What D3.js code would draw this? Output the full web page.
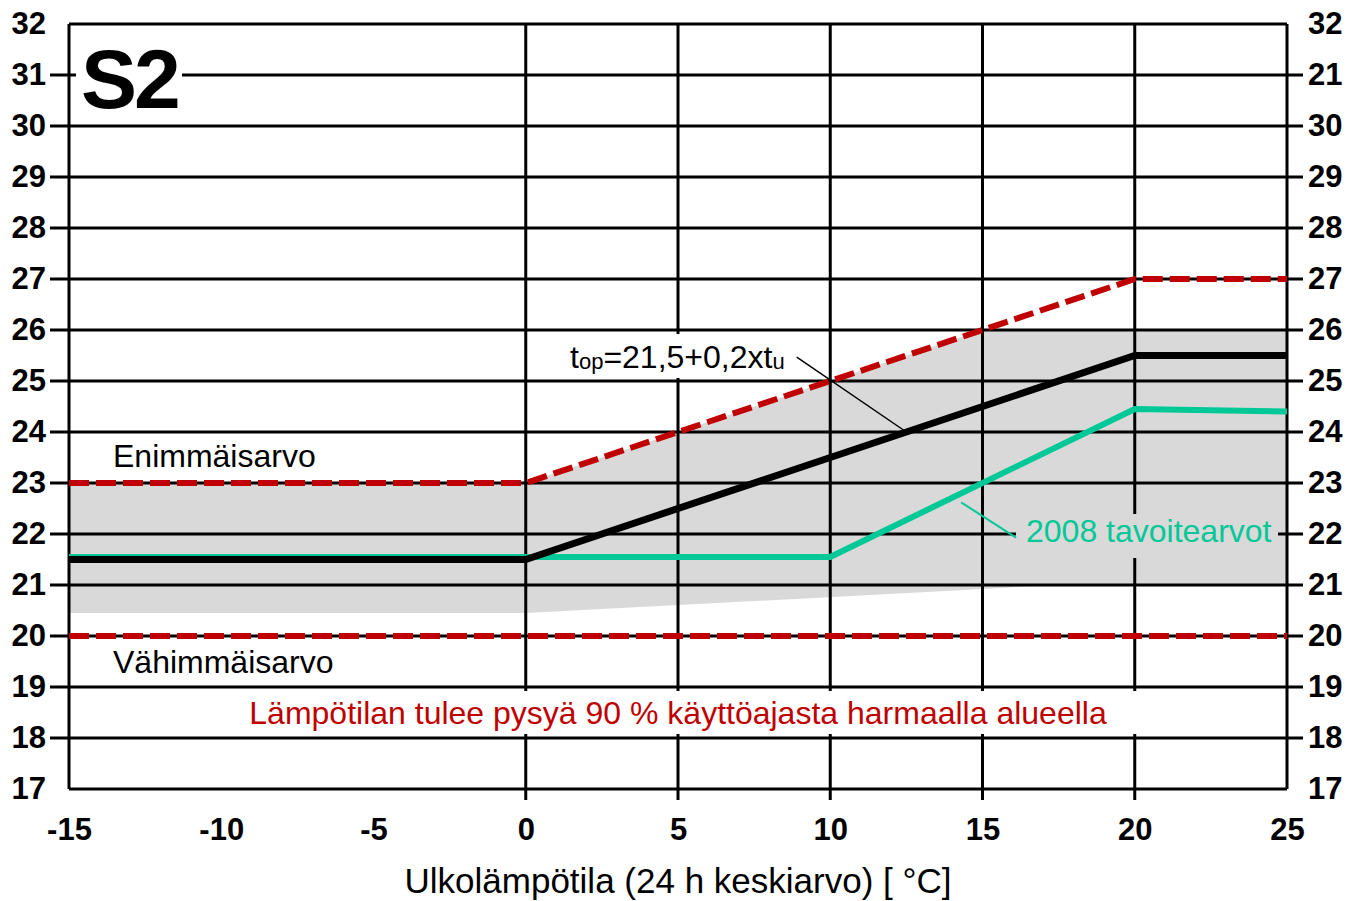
<!DOCTYPE html>
<html>
<head>
<meta charset="utf-8">
<script src="https://cdn.jsdelivr.net/npm/d3@7"></script>
<style>
  body { margin: 0; background: #fff; }
  text { font-family: "Liberation Sans", Arial, sans-serif; }
</style>
</head>
<body>
<svg id="chart"></svg>
<script>
// S2 indoor temperature chart

var xTicks = [-15, -10, -5, 0, 5, 10, 15, 20, 25];
var xLabels = ["-15", "-10", "-5", "0", "5", "10", "15", "20", "25"];
var gridX = [0, 5, 10, 15, 20, 25];
var yTicks = [17, 18, 19, 20, 21, 22, 23, 24, 25, 26, 27, 28, 29, 30, 31, 32];
var leftLabels = ["17", "18", "19", "20", "21", "22", "23", "24", "25", "26", "27", "28", "29", "30", "31", "32"];
var rightLabels = ["17", "18", "19", "20", "21", "22", "23", "24", "25", "26", "27", "28", "29", "30", "21", "32"];

// grey band (90 % of time)
var bandX = [-15, 0, 15, 17.4, 25];
var bandHi = [23, 23, 26, 26, 26];
var bandLo = [20.45, 20.45, 20.92, 21, 21];

// max / min values (red dashed)
var maxX = [-15, 0, 20, 25];
var maxY = [23, 23, 27, 27];
var minX = [-15, 25];
var minY = [20, 20];

// top = 21,5 + 0,2 x tu
var topX = [-15, 0, 20, 25];
var topY = [21.5, 21.5, 25.5, 25.5];

// 2008 target values
var targetX = [-15, 0, 10, 20, 25];
var targetY = [21.55, 21.55, 21.55, 24.45, 24.4];

// leader lines
var topLeaderX = [8.9, 12.5];
var topLeaderY = [25.47, 24.0];
var targetLeaderX = [14.3, 16.1];
var targetLeaderY = [22.62, 21.93];

var W = 1348, H = 901;

var svg = d3.select("#chart")
    .attr("width", W)
    .attr("height", H);

var x = d3.scaleLinear().domain([-15, 25]).range([69, 1287]);
var y = d3.scaleLinear().domain([17, 32]).range([789, 24]);

function pts(xs, ys) {
    return xs.map(function(d, i) { return [d, ys[i]]; });
}

var line = d3.line()
    .x(function(d) { return x(d[0]); })
    .y(function(d) { return y(d[1]); });

// grey area
var area = d3.area()
    .x(function(d) { return x(d[0]); })
    .y0(function(d) { return y(d[2]); })
    .y1(function(d) { return y(d[1]); });

svg.append("path")
    .datum(bandX.map(function(d, i) { return [d, bandHi[i], bandLo[i]]; }))
    .attr("d", area)
    .attr("fill", "#d9d9d9");

// vertical grid (extends a bit below the frame)
svg.append("g").selectAll("line")
    .data(gridX)
    .join("line")
    .attr("x1", function(d) { return x(d); })
    .attr("x2", function(d) { return x(d); })
    .attr("y1", y(32))
    .attr("y2", function(d) { return d == 25 ? y(17) : y(17) + 11; })
    .attr("stroke", "#000")
    .attr("stroke-width", 3);

// left frame
svg.append("line")
    .attr("x1", x(-15)).attr("x2", x(-15))
    .attr("y1", y(32)).attr("y2", y(17))
    .attr("stroke", "#000")
    .attr("stroke-width", 3);

// white band behind the red note
svg.append("rect")
    .attr("x", x(-15) + 2)
    .attr("y", y(19) + 4)
    .attr("width", x(25) - x(-15) - 4)
    .attr("height", y(18) - y(19) - 8)
    .attr("fill", "#fff");

// horizontal grid, with small ticks on both sides
svg.append("g").selectAll("line")
    .data(yTicks)
    .join("line")
    .attr("x1", function(d) { return (d == 17 || d == 32) ? x(-15) : x(-15) - 19; })
    .attr("x2", function(d) { return (d == 17 || d == 32) ? x(25) : x(25) + 16; })
    .attr("y1", function(d) { return y(d); })
    .attr("y2", function(d) { return y(d); })
    .attr("stroke", "#000")
    .attr("stroke-width", 3);

// axes labels
var gl = svg.append("g")
    .attr("transform", "translate(" + x(-15) + ",0)")
    .call(d3.axisLeft(y)
        .tickValues(yTicks)
        .tickSize(0)
        .tickPadding(23)
        .tickFormat(function(d, i) { return leftLabels[i]; }));

var gr = svg.append("g")
    .attr("transform", "translate(" + x(25) + ",0)")
    .call(d3.axisRight(y)
        .tickValues(yTicks)
        .tickSize(0)
        .tickPadding(21)
        .tickFormat(function(d, i) { return rightLabels[i]; }));

var gb = svg.append("g")
    .attr("transform", "translate(0," + y(17) + ")")
    .call(d3.axisBottom(x)
        .tickValues(xTicks)
        .tickSize(0)
        .tickPadding(29)
        .tickFormat(function(d, i) { return xLabels[i]; }));

[gl, gr, gb].forEach(function(g) {
    g.select(".domain").remove();
    g.selectAll("text")
        .style("font-family", "'Liberation Sans', Arial, sans-serif")
        .style("font-size", "31px")
        .style("font-weight", "bold")
        .attr("fill", "#000");
});

// red dashed limits
[pts(maxX, maxY), pts(minX, minY)].forEach(function(p) {
    svg.append("path")
        .datum(p)
        .attr("d", line)
        .attr("fill", "none")
        .attr("stroke", "#c00000")
        .attr("stroke-width", 6)
        .attr("stroke-dasharray", "20,7");
});

// 2008 target line
svg.append("path")
    .datum(pts(targetX, targetY))
    .attr("d", line)
    .attr("fill", "none")
    .attr("stroke", "#00c896")
    .attr("stroke-width", 6);

// top line
svg.append("path")
    .datum(pts(topX, topY))
    .attr("d", line)
    .attr("fill", "none")
    .attr("stroke", "#000")
    .attr("stroke-width", 7);

// top annotation
svg.append("rect")
    .attr("x", 565).attr("y", 334)
    .attr("width", 226).attr("height", 44)
    .attr("fill", "#fff");

svg.append("path")
    .datum(pts(topLeaderX, topLeaderY))
    .attr("d", line)
    .attr("stroke", "#000")
    .attr("stroke-width", 1.5);

var tt = svg.append("text")
    .attr("x", 570)
    .attr("y", 368)
    .style("font-size", "32px")
    .attr("fill", "#000");
tt.append("tspan").text("t");
tt.append("tspan").style("font-size", "22px").attr("dy", 1).text("op");
tt.append("tspan").attr("dy", -1).text("=21,5+0,2xt");
tt.append("tspan").style("font-size", "22px").attr("dy", 1).text("u");

// target annotation
svg.append("rect")
    .attr("x", 1016).attr("y", 514)
    .attr("width", 262).attr("height", 44)
    .attr("fill", "#d9d9d9");

svg.append("path")
    .datum(pts(targetLeaderX, targetLeaderY))
    .attr("d", line)
    .attr("stroke", "#00c896")
    .attr("stroke-width", 2);

svg.append("text")
    .attr("x", 1026)
    .attr("y", 542)
    .style("font-size", "32px")
    .attr("fill", "#00c896")
    .text("2008 tavoitearvot");

// labels for limits
svg.append("text")
    .attr("x", 113).attr("y", 467)
    .style("font-size", "32px")
    .text("Enimmäisarvo");

svg.append("text")
    .attr("x", 113).attr("y", 673)
    .style("font-size", "32px")
    .text("Vähimmäisarvo");

svg.append("text")
    .attr("x", 678).attr("y", 724)
    .style("text-anchor", "middle")
    .style("font-size", "32px")
    .attr("fill", "#c00000")
    .text("Lämpötilan tulee pysyä 90 % käyttöajasta harmaalla alueella");

// S2 badge
svg.append("rect")
    .attr("x", 76).attr("y", 38)
    .attr("width", 106).attr("height", 86)
    .attr("fill", "#fff");

svg.append("text")
    .attr("x", 81).attr("y", 108)
    .style("font-size", "84px")
    .style("font-weight", "bold")
    .style("letter-spacing", "-3px")
    .text("S2");

// x axis title
svg.append("text")
    .attr("x", 678).attr("y", 893)
    .style("text-anchor", "middle")
    .style("font-size", "35px")
    .text("Ulkolämpötila (24 h keskiarvo) [ °C]");
</script>
</body>
</html>
